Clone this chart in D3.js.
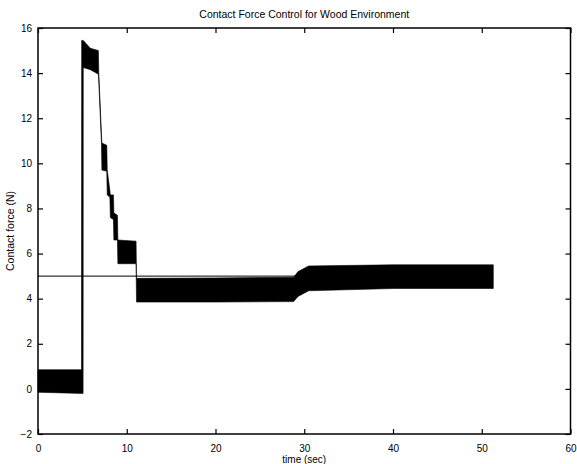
<!DOCTYPE html>
<html>
<head>
<meta charset="utf-8">
<script src="https://cdn.jsdelivr.net/npm/d3@7"></script>
<style>
  body { margin: 0; background: #fff; }
  text { font-family: "Liberation Sans", Arial, sans-serif; fill: #000; }
</style>
</head>
<body>
<div id="chart"></div>
<script>
const bandTime = [0, 4.9, 4.92, 5.08, 5.1, 5.9, 6.8, 6.85, 7.15, 7.2, 7.75, 7.8, 8.1, 8.15, 8.5, 8.55, 8.95, 9.0, 11.05, 11.1, 20, 28.8, 29.3, 30.5, 40, 51.3];
const bandLow  = [-0.15, -0.2, -0.2, -0.2, 14.25, 14.15, 13.95, 13.6, 10.9, 9.7, 9.65, 8.6, 8.5, 7.6, 7.5, 6.6, 6.6, 5.55, 5.55, 3.85, 3.85, 3.87, 4.1, 4.35, 4.45, 4.45];
const bandHigh = [0.85, 0.85, 15.45, 15.45, 15.45, 15.1, 15.0, 14.0, 11.3, 10.9, 10.8, 9.7, 8.8, 8.6, 8.6, 7.8, 7.7, 6.6, 6.55, 4.9, 4.92, 4.95, 5.2, 5.45, 5.5, 5.5];

// commanded (reference) force
const refTime  = [0, 51.3];
const refForce = [5, 5];

const xTicks = [0, 10, 20, 30, 40, 50, 60];
const yTicks = [-2, 0, 2, 4, 6, 8, 10, 12, 14, 16];

let width = 577, height = 464;
let margin = { top: 28, bottom: 30, left: 38, right: 6 };

let svg = d3.select('#chart')
    .append('svg')
    .attr('width', width)
    .attr('height', height)
    .style('background', '#fff');

let xScale = d3.scaleLinear()
    .domain([0, 60])
    .range([margin.left, width - margin.right - 0.5]);

let yScale = d3.scaleLinear()
    .domain([-2, 16])
    .range([height - margin.bottom, margin.top]);

// force band
let band = bandTime.map((t, i) => ({ t: t, lo: bandLow[i], hi: bandHigh[i] }));
svg.append('path')
    .datum(band)
    .attr('fill', '#000')
    .attr('stroke', '#000')
    .attr('stroke-width', 0.6)
    .attr('d', d3.area()
        .x(d => xScale(d.t))
        .y0(d => yScale(d.lo))
        .y1(d => yScale(d.hi)));

// reference line
let ref = refTime.map((t, i) => ({ t: t, f: refForce[i] }));
svg.append('path')
    .datum(ref)
    .attr('fill', 'none')
    .attr('stroke', '#000')
    .attr('stroke-width', 1)
    .attr('d', d3.line().x(d => xScale(d.t)).y(d => yScale(d.f)));

// axes: ticks point inward like matlab
let tickLen = 5;
svg.append('g')
    .attr('transform', `translate(0, ${yScale(-2)})`)
    .call(d3.axisBottom(xScale).tickValues(xTicks).tickSizeInner(-tickLen).tickSizeOuter(0).tickPadding(11))
    .call(g => g.select('.domain').remove())
    .call(g => g.selectAll('text').style('font-size', '10px'));

svg.append('g')
    .attr('transform', `translate(0, ${yScale(16)})`)
    .call(d3.axisTop(xScale).tickValues(xTicks).tickSizeInner(-tickLen).tickSizeOuter(0).tickFormat(''))
    .call(g => g.select('.domain').remove());

svg.append('g')
    .attr('transform', `translate(${xScale(0)}, 0)`)
    .call(d3.axisLeft(yScale).tickValues(yTicks).tickSizeInner(-tickLen).tickSizeOuter(0).tickPadding(6))
    .call(g => g.select('.domain').remove())
    .call(g => g.selectAll('text').style('font-size', '10px'));

svg.append('g')
    .attr('transform', `translate(${xScale(60)}, 0)`)
    .call(d3.axisRight(yScale).tickValues(yTicks).tickSizeInner(-tickLen).tickSizeOuter(0).tickFormat(''))
    .call(g => g.select('.domain').remove());

svg.selectAll('.tick line').attr('stroke', '#000').attr('stroke-width', 1.2);

// box
svg.append('rect')
    .attr('x', xScale(0))
    .attr('y', yScale(16))
    .attr('width', xScale(60) - xScale(0))
    .attr('height', yScale(-2) - yScale(16))
    .attr('fill', 'none')
    .attr('stroke', '#000')
    .attr('stroke-width', 1.5);

// title and labels
let midX = (xScale(0) + xScale(60)) / 2;
svg.append('text')
    .attr('x', midX)
    .attr('y', 18)
    .attr('text-anchor', 'middle')
    .style('font-size', '10.5px')
    .text('Contact Force Control for Wood Environment');

svg.append('text')
    .attr('x', midX)
    .attr('y', 463)
    .attr('text-anchor', 'middle')
    .style('font-size', '10px')
    .text('time (sec)');

svg.append('text')
    .attr('transform', `translate(14, ${(yScale(-2) + yScale(16)) / 2}) rotate(-90)`)
    .attr('text-anchor', 'middle')
    .style('font-size', '10.5px')
    .text('Contact force (N)');
</script>
</body>
</html>
